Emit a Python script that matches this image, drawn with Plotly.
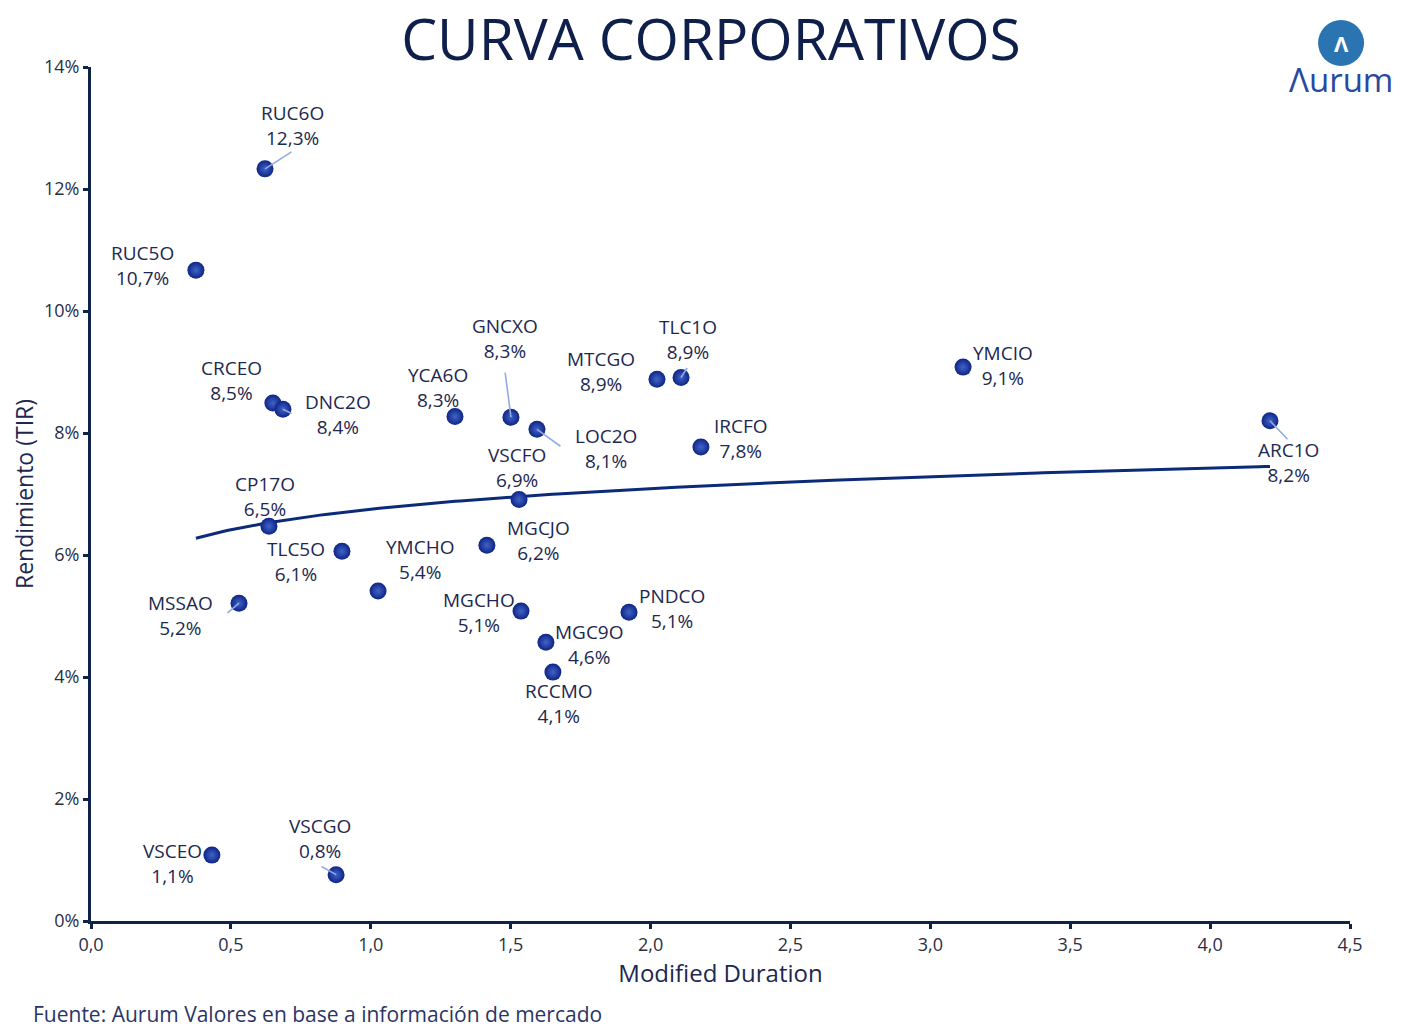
import numpy as np
import plotly.graph_objects as go

# ---------------- data ----------------
names = ["RUC6O", "RUC5O", "CRCEO", "DNC2O", "YCA6O", "GNCXO", "LOC2O", "MTCGO",
         "TLC1O", "YMCIO", "ARC1O", "IRCFO", "VSCFO", "CP17O", "TLC5O", "MGCJO",
         "YMCHO", "MSSAO", "MGCHO", "PNDCO", "MGC9O", "RCCMO", "VSCEO", "VSCGO"]
duration = [0.622, 0.375, 0.650, 0.686, 1.301, 1.501, 1.594, 2.023,
            2.109, 3.117, 4.214, 2.180, 1.530, 0.636, 0.897, 1.415,
            1.026, 0.529, 1.537, 1.923, 1.626, 1.651, 0.432, 0.876]
tir = [12.33, 10.67, 8.49, 8.39, 8.27, 8.26, 8.06, 8.88,
       8.91, 9.08, 8.20, 7.77, 6.91, 6.47, 6.06, 6.16,
       5.41, 5.21, 5.08, 5.06, 4.57, 4.08, 1.08, 0.76]
x_ticks = [0, 0.5, 1.0, 1.5, 2.0, 2.5, 3.0, 3.5, 4.0, 4.5]
y_ticks = [0, 2, 4, 6, 8, 10, 12, 14]
y_tick_text = ["0%", "2%", "4%", "6%", "8%", "10%", "12%", "14%"]

# label placement: pixel offset of label block centre from the point
label_offset = {
    "RUC6O": (27, -43), "RUC5O": (-53, -5), "CRCEO": (-41, -23), "DNC2O": (55, 5),
    "YCA6O": (-17, -29), "GNCXO": (-6, -79), "LOC2O": (69, 19), "MTCGO": (-56, -8),
    "TLC1O": (7, -38), "YMCIO": (40, -2), "ARC1O": (19, 42), "IRCFO": (40, -9),
    "VSCFO": (-2, -32), "CP17O": (-4, -30), "TLC5O": (-46, 10), "MGCJO": (52, -5),
    "YMCHO": (42, -31), "MSSAO": (-59, 12), "MGCHO": (-42, 1), "PNDCO": (43, -4),
    "MGC9O": (44, 2), "RCCMO": (6, 31), "VSCEO": (-39, 8), "VSCGO": (-16, -36),
}
# leader lines: pixel offset of the far end of the line from the point
leader_end = {
    "RUC6O": (28, -18), "DNC2O": (10, 5), "GNCXO": (-6, -46), "LOC2O": (25, 18),
    "TLC1O": (7, -11), "ARC1O": (19, 20), "MSSAO": (-13, 11), "VSCGO": (-16, -9),
}

NAVY = "#0f2347"
TEXT = "#1d2850"
FONT = "'Open Sans', Lato, sans-serif"

# logarithmic trendline fitted to the data
xs = np.array(duration)
ys = np.array(tir)
b, a = np.polyfit(np.log(xs), ys, 1)
tx = np.linspace(xs.min(), xs.max(), 200)
ty = a + b * np.log(tx)

fig = go.Figure()
fig.add_trace(go.Scatter(
    x=tx, y=ty, mode="lines", line=dict(color="#0b2a78", width=3),
    hoverinfo="skip", showlegend=False))
fig.add_trace(go.Scatter(
    x=duration, y=tir, mode="markers", text=names,
    marker=dict(size=17, color="#0d2586", line=dict(width=0),
                gradient=dict(type="radial", color="#4263c8")),
    showlegend=False))

annotations = []
for n, x, y in zip(names, duration, tir):
    dx, dy = label_offset[n]
    val = f"{y:.1f}".replace(".", ",") + "%"
    if n in leader_end:
        lx, ly = leader_end[n]
        annotations.append(dict(
            x=x, y=y, xref="x", yref="y", text="", showarrow=True,
            ax=lx, ay=ly, arrowhead=0, arrowwidth=1.6, arrowcolor="#93a9e2",
            standoff=0, startstandoff=0))
    annotations.append(dict(
        x=x, y=y, xref="x", yref="y", text=f"{n}<br>{val}", showarrow=False,
        xshift=dx, yshift=-dy, xanchor="center", yanchor="middle", align="center",
        font=dict(family=FONT, size=19, color=TEXT)))

# footer
annotations.append(dict(
    xref="paper", yref="paper", x=-0.0477, y=-0.109, xanchor="left", yanchor="middle",
    text="Fuente: Aurum Valores en base a información de mercado", showarrow=False,
    font=dict(family=FONT, size=21, color="#2a3566")))
# logo
annotations.append(dict(
    xref="paper", yref="paper", x=0.9929, y=(921 - 79) / 854, xanchor="center", yanchor="middle",
    text="Λurum", showarrow=False,
    font=dict(family=FONT, size=33, color="#2a48a0")))
annotations.append(dict(
    xref="paper", yref="paper", x=0.9929, y=(921 - 43) / 854, xanchor="center", yanchor="middle",
    text="<b>Λ</b>", showarrow=False,
    font=dict(family=FONT, size=22, color="white")))

shapes = [dict(
    type="circle", xref="paper", yref="paper", xsizemode="pixel", ysizemode="pixel",
    xanchor=0.9929, yanchor=(921 - 43) / 854, x0=-23, x1=23, y0=-23, y1=23,
    fillcolor="#2a74b2", line=dict(width=0), layer="above")]

fig.update_layout(
    width=1422, height=1033,
    margin=dict(l=91, r=72, t=67, b=112),
    paper_bgcolor="white", plot_bgcolor="white",
    font=dict(family=FONT, color=TEXT),
    title=dict(text="CURVA CORPORATIVOS", x=0.5, xref="container", xanchor="center",
               y=1 - 40 / 1033, yref="container", yanchor="middle",
               font=dict(family=FONT, size=57, color="#0d1f4a")),
    annotations=annotations,
    shapes=shapes,
    xaxis=dict(range=[0, 4.5], tickvals=x_ticks,
               ticktext=[f"{v:.1f}".replace(".", ",") for v in x_ticks],
               showgrid=False, zeroline=False, showline=True, linecolor=NAVY, linewidth=3,
               ticks="outside", tickcolor=NAVY, ticklen=5, tickwidth=3,
               tickfont=dict(family=FONT, size=18, color="#2a2f45"),
               title=dict(text="Modified Duration", standoff=10,
                          font=dict(family=FONT, size=24, color=TEXT))),
    yaxis=dict(range=[0, 14], tickvals=y_ticks, ticktext=y_tick_text,
               showgrid=False, zeroline=False, showline=True, linecolor=NAVY, linewidth=3,
               ticks="outside", tickcolor=NAVY, ticklen=5, tickwidth=3,
               tickfont=dict(family=FONT, size=18, color="#2a2f45"),
               title=dict(text="Rendimiento (TIR)", standoff=4,
                          font=dict(family=FONT, size=23, color=TEXT))),
)

fig.write_html("out.html")
